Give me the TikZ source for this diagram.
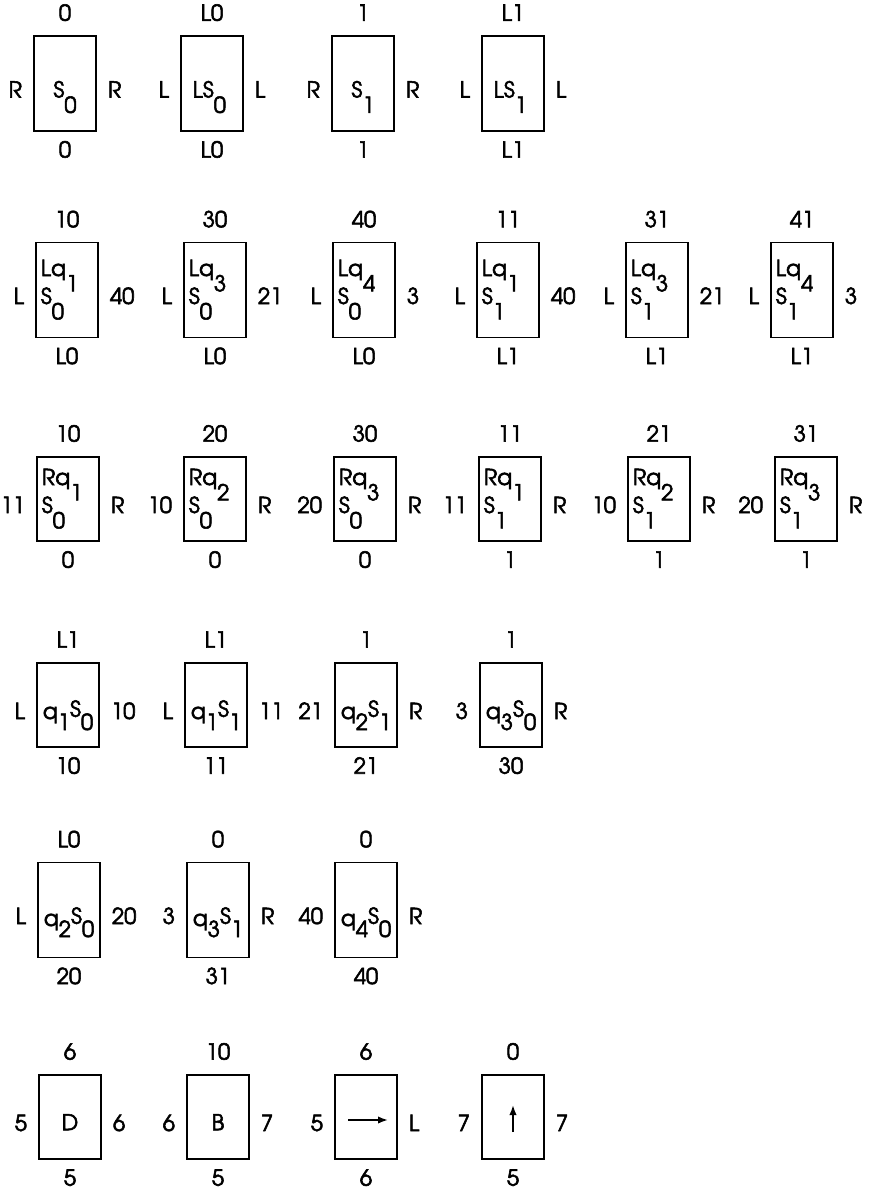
\documentclass[tikz,border=0pt]{standalone}
\usepackage{fontspec}
\setmainfont[FakeBold=2.5]{TeX Gyre Adventor}
\usepackage{tikz}
\usetikzlibrary{arrows.meta, positioning}
\newcommand{\dn}[1]{\raisebox{-0.7em}{#1}}
\newcommand{\qdn}[1]{\raisebox{-0.5em}{#1}}
\newcommand{\up}[1]{\raisebox{0.1em}{#1}}
\tikzset{
	tilebox/.style={
			shape=rectangle,
			draw=black,
			line width=1.1pt,
			minimum width=46.5pt,
			inner sep=0pt
		},
	tall/.style={minimum height=71pt},
	short/.style={minimum height=63pt},
	lbl/.style={inner sep=0pt},
	txt/.style={inner sep=0pt}
}
% name, x, y, height style, top, left, right, bottom
\newcommand{\tile}[8]{%
  \node[tilebox, #4] (#1) at (#2,#3) {};
  \node[lbl, anchor=base] (#1t) at ([yshift=11pt]#1.north) {#5};
  \node[lbl, anchor=base east] (#1l) at ([xshift=-8.25pt, yshift=-10.5pt]#1.west) {#6};
  \node[lbl, anchor=base west] (#1r) at ([xshift=8.25pt, yshift=-10.5pt]#1.east) {#7};
  \node[lbl, anchor=base] (#1b) at ([yshift=-19.5pt]#1.south) {#8};
}
\begin{document}
\begin{tikzpicture}[x=0.75pt, y=-0.75pt, font=\fontsize{16.5}{19}\selectfont]
  \useasboundingbox (0,0) rectangle (868,1191);

  % row 1
  \tile{a1}{65}{83.5}{tall}{0}{R}{R}{0}
  \tile{a2}{212}{83.5}{tall}{L0}{L}{L}{L0}
  \tile{a3}{363}{83.5}{tall}{1}{R}{R}{1}
  \tile{a4}{513}{83.5}{tall}{L1}{L}{L}{L1}

  \node[txt, anchor=base] (a1c) at ([yshift=-10.5pt]a1.center) {S\dn{0}};
  \node[txt, anchor=base] (a2c) at ([xshift=-2pt, yshift=-10.5pt]a2.center) {LS\dn{0}};
  \node[txt, anchor=base] (a3c) at ([yshift=-10.5pt]a3.center) {S\dn{1}};
  \node[txt, anchor=base] (a4c) at ([xshift=-2pt, yshift=-10.5pt]a4.center) {LS\dn{1}};

  % row 2
  \tile{b1}{67}{290}{tall}{10}{L}{40}{L0}
  \tile{b2}{215}{290}{tall}{30}{L}{21}{L0}
  \tile{b3}{364}{290}{tall}{40}{L}{3}{L0}
  \tile{b4}{508}{290}{tall}{11}{L}{40}{L1}
  \tile{b5}{657}{290}{tall}{31}{L}{21}{L1}
  \tile{b6}{802}{290}{tall}{41}{L}{3}{L1}

  \node[txt, anchor=base west] (b1u) at ([xshift=4pt, yshift=10.5pt]b1.west) {Lq\dn{1}};
  \node[txt, anchor=base west] (b1c) at ([xshift=4pt, yshift=-10.5pt]b1.west) {S\dn{0}};
  \node[txt, anchor=base west] (b2u) at ([xshift=4pt, yshift=10.5pt]b2.west) {Lq\dn{3}};
  \node[txt, anchor=base west] (b2c) at ([xshift=4pt, yshift=-10.5pt]b2.west) {S\dn{0}};
  \node[txt, anchor=base west] (b3u) at ([xshift=4pt, yshift=10.5pt]b3.west) {Lq\dn{4}};
  \node[txt, anchor=base west] (b3c) at ([xshift=4pt, yshift=-10.5pt]b3.west) {S\dn{0}};
  \node[txt, anchor=base west] (b4u) at ([xshift=4pt, yshift=10.5pt]b4.west) {Lq\dn{1}};
  \node[txt, anchor=base west] (b4c) at ([xshift=4pt, yshift=-10.5pt]b4.west) {S\dn{1}};
  \node[txt, anchor=base west] (b5u) at ([xshift=4pt, yshift=10.5pt]b5.west) {Lq\dn{3}};
  \node[txt, anchor=base west] (b5c) at ([xshift=4pt, yshift=-10.5pt]b5.west) {S\dn{1}};
  \node[txt, anchor=base west] (b6u) at ([xshift=4pt, yshift=10.5pt]b6.west) {Lq\dn{4}};
  \node[txt, anchor=base west] (b6c) at ([xshift=4pt, yshift=-10.5pt]b6.west) {S\dn{1}};

  % row 3
  \tile{c1}{68}{499}{short}{10}{11}{R}{0}
  \tile{c2}{215}{499}{short}{20}{10}{R}{0}
  \tile{c3}{365}{499}{short}{30}{20}{R}{0}
  \tile{c4}{510}{499}{short}{11}{11}{R}{1}
  \tile{c5}{659}{499}{short}{21}{10}{R}{1}
  \tile{c6}{806}{499}{short}{31}{20}{R}{1}

  \node[txt, anchor=base west] (c1u) at ([xshift=4pt, yshift=10.5pt]c1.west) {Rq\dn{1}};
  \node[txt, anchor=base west] (c1c) at ([xshift=4pt, yshift=-10.5pt]c1.west) {S\dn{0}};
  \node[txt, anchor=base west] (c2u) at ([xshift=4pt, yshift=10.5pt]c2.west) {Rq\dn{2}};
  \node[txt, anchor=base west] (c2c) at ([xshift=4pt, yshift=-10.5pt]c2.west) {S\dn{0}};
  \node[txt, anchor=base west] (c3u) at ([xshift=4pt, yshift=10.5pt]c3.west) {Rq\dn{3}};
  \node[txt, anchor=base west] (c3c) at ([xshift=4pt, yshift=-10.5pt]c3.west) {S\dn{0}};
  \node[txt, anchor=base west] (c4u) at ([xshift=4pt, yshift=10.5pt]c4.west) {Rq\dn{1}};
  \node[txt, anchor=base west] (c4c) at ([xshift=4pt, yshift=-10.5pt]c4.west) {S\dn{1}};
  \node[txt, anchor=base west] (c5u) at ([xshift=4pt, yshift=10.5pt]c5.west) {Rq\dn{2}};
  \node[txt, anchor=base west] (c5c) at ([xshift=4pt, yshift=-10.5pt]c5.west) {S\dn{1}};
  \node[txt, anchor=base west] (c6u) at ([xshift=4pt, yshift=10.5pt]c6.west) {Rq\dn{3}};
  \node[txt, anchor=base west] (c6c) at ([xshift=4pt, yshift=-10.5pt]c6.west) {S\dn{1}};

  % row 4
  \tile{d1}{68}{705}{short}{L1}{L}{10}{10}
  \tile{d2}{216}{705}{short}{L1}{L}{11}{11}
  \tile{d3}{366}{705}{short}{1}{21}{R}{21}
  \tile{d4}{511}{705}{short}{1}{3}{R}{30}

  \node[txt, anchor=base] (d1c) at ([yshift=-10.5pt]d1.center) {q\qdn{1}\up{S}\qdn{0}};
  \node[txt, anchor=base] (d2c) at ([yshift=-10.5pt]d2.center) {q\qdn{1}\up{S}\qdn{1}};
  \node[txt, anchor=base] (d3c) at ([yshift=-10.5pt]d3.center) {q\qdn{2}\up{S}\qdn{1}};
  \node[txt, anchor=base] (d4c) at ([yshift=-10.5pt]d4.center) {q\qdn{3}\up{S}\qdn{0}};

  % row 5
  \tile{e1}{69}{910}{tall}{L0}{L}{20}{20}
  \tile{e2}{218}{910}{tall}{0}{3}{R}{31}
  \tile{e3}{366}{910}{tall}{0}{40}{R}{40}

  \node[txt, anchor=base] (e1c) at ([yshift=-12pt]e1.center) {q\qdn{2}\up{S}\qdn{0}};
  \node[txt, anchor=base] (e2c) at ([yshift=-12pt]e2.center) {q\qdn{3}\up{S}\qdn{1}};
  \node[txt, anchor=base] (e3c) at ([yshift=-12pt]e3.center) {q\qdn{4}\up{S}\qdn{0}};

  % row 6
  \tile{f1}{70}{1117}{short}{6}{5}{6}{5}
  \tile{f2}{218}{1117}{short}{10}{6}{7}{5}
  \tile{f3}{366}{1117}{short}{6}{5}{L}{6}
  \tile{f4}{513}{1117}{short}{0}{7}{7}{5}

  \node[txt, anchor=base] (f1c) at ([yshift=-10pt]f1.center) {D};
  \node[txt, anchor=base] (f2c) at ([yshift=-10pt]f2.center) {B};

  \coordinate (f3s) at ([xshift=-13.5pt, yshift=-2.25pt]f3.center);
  \coordinate (f3e) at ([xshift=16.5pt, yshift=-2.25pt]f3.center);
  \draw[line width=1.2pt, -{Latex[length=7.5pt, width=5.5pt]}] (f3s) -- (f3e);
  \coordinate (f4s) at ([yshift=-11.25pt]f4.center);
  \coordinate (f4e) at ([yshift=9pt]f4.center);
  \draw[line width=1.2pt, -{Latex[length=7.5pt, width=5.5pt]}] (f4s) -- (f4e);

\end{tikzpicture}
\end{document}
